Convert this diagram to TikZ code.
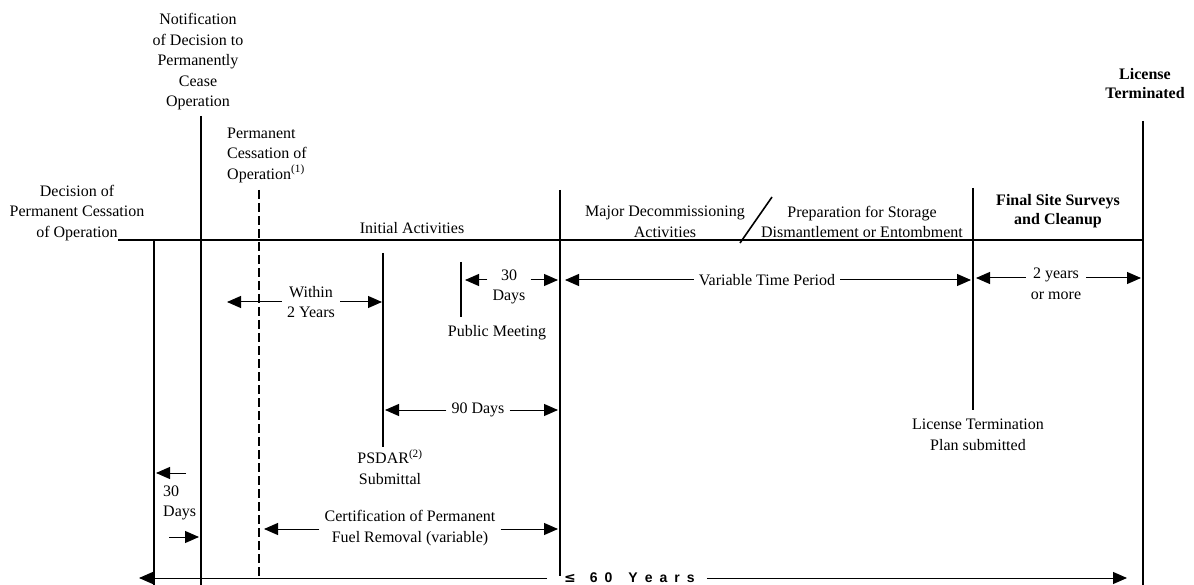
\documentclass[tikz,border=0pt]{standalone}
\usepackage{fontspec}
\setmainfont{Liberation Serif}
\newfontfamily\scalesans{Liberation Sans}
\newfontfamily\symsans{DejaVu Sans}
\usetikzlibrary{arrows.meta}
\begin{document}
\begin{tikzpicture}[x=1pt,y=-1pt,
  lbl/.style={font=\fontsize{16}{20.5}\selectfont, align=center, inner sep=0pt},
  lblbold/.style={lbl, font=\fontsize{16}{19}\selectfont\bfseries},
  bar/.style={line width=2.2pt},
  arr/.style={line width=1pt, shorten <=5pt, -{Triangle[length=14pt,width=12pt]}},
  tiparr/.style={line width=1pt, -{Triangle[length=14pt,width=12pt]}},
]
\useasboundingbox (0,0) rectangle (1194,585);

% ---- time axis and milestone bars ----
\coordinate (axisL) at (118,240);
\coordinate (axisR) at (1143,240);
\draw[bar] (axisL) -- (axisR);

\draw[bar] (154,240) -- (154,585);               % decision
\draw[bar] (201,116) -- (201,585);               % notification
\draw[bar, dash pattern=on 9pt off 4pt] (259,190) -- (259,578); % cessation
\draw[bar] (383,253) -- (383,447);               % PSDAR
\draw[bar] (461,262) -- (461,317);               % public meeting
\draw[bar] (560,190) -- (560,576);               % start of major activities
\draw[bar] (973,188) -- (973,410);               % LTP submitted
\draw[bar] (1143,121) -- (1143,585);             % license terminated
\draw[line width=1.6pt] (740,243) -- (772,197);  % divider between phases

% ---- milestone and phase labels ----
\node[lbl] (notif) at (198,62) {Notification\\of Decision to\\Permanently\\Cease\\Operation};
\node[lbl, align=left, anchor=west] (pcess) at (227,155) {Permanent\\Cessation of\\Operation\textsuperscript{(1)}};
\node[lbl] (decis) at (77,213) {Decision of\\Permanent Cessation\\of Operation};
\node[lbl] (init) at (412,228) {Initial Activities};
\node[lbl] (major) at (665,222) {Major Decommissioning\\Activities};
\node[lbl] (prep) at (862,222) {Preparation for Storage\\Dismantlement or Entombment};
\node[lblbold] (final) at (1058,211) {Final Site Surveys\\and Cleanup};
\node[lblbold] (licterm) at (1145,84) {License\\Terminated};

\node[lbl] (within) at (311,302) {Within\\2 Years};
\node[lbl] (thirty) at (509,287) {30\\Days};
\node[lbl] (pubmeet) at (497,333) {Public Meeting};
\node[lbl] (vartime) at (767,280) {Variable Time Period};
\node[lbl] (twoyrs) at (1056,284) {2 years\\or more};
\node[lbl] (ninety) at (478,410) {90 Days};
\node[lbl] (psdar) at (390,467) {PSDAR\textsuperscript{(2)}\\Submittal};
\node[lbl] (ltp) at (978,435) {License Termination\\Plan submitted};
\node[lbl, align=left, anchor=west] (thirtyL) at (163,503) {30\\Days};
\node[lbl] (cert) at (410,528) {Certification of Permanent\\Fuel Removal (variable)};
\node[anchor=west, inner sep=0pt, font=\scalesans\bfseries\fontsize{14}{16}\selectfont] (sixty) at (564,578)
  {{\symsans\bfseries ≤}\hspace{14pt}6\hspace{7pt}0\hspace{16pt}Y\hspace{7pt}e\hspace{7pt}a\hspace{7pt}r\hspace{7pt}s};

% ---- arrow tips on the bars ----
\coordinate (withinL) at (227,302);
\coordinate (withinR) at (382,302);
\coordinate (thirtyA) at (465,280);
\coordinate (thirtyB) at (558,280);
\coordinate (varA) at (565,280);
\coordinate (varB) at (971,280);
\coordinate (yrsA) at (976,278);
\coordinate (yrsB) at (1141,278);
\coordinate (ninetyA) at (385,410);
\coordinate (ninetyB) at (558,410);
\coordinate (certA) at (264,529);
\coordinate (certB) at (558,529);
\coordinate (dayTailA) at (186,473);
\coordinate (dayTipA) at (156,473);
\coordinate (dayTailB) at (169,537);
\coordinate (dayTipB) at (199,537);
\coordinate (axisTail) at (547,578);
\coordinate (axisTipL) at (139,578);
\coordinate (axisTipR) at (1127,578);

% ---- duration arrows ----
\draw[arr] (within.west) -- (withinL);
\draw[arr] (within.east) -- (withinR);
\draw[arr] (thirty.west |- thirtyA) -- (thirtyA);
\draw[arr] (thirty.east |- thirtyB) -- (thirtyB);
\draw[arr] (vartime.west) -- (varA);
\draw[arr] (vartime.east) -- (varB);
\draw[arr] (twoyrs.west |- yrsA) -- (yrsA);
\draw[arr] (twoyrs.east |- yrsB) -- (yrsB);
\draw[arr] (ninety.west) -- (ninetyA);
\draw[arr] (ninety.east) -- (ninetyB);
\draw[arr] (cert.west |- certA) -- (certA);
\draw[arr] (cert.east |- certB) -- (certB);
\draw[tiparr] (dayTailA) -- (dayTipA);
\draw[tiparr] (dayTailB) -- (dayTipB);
\draw[tiparr] (axisTail) -- (axisTipL);
\draw[arr, shorten <=12pt] (sixty.east) -- (axisTipR);
\end{tikzpicture}
\end{document}
